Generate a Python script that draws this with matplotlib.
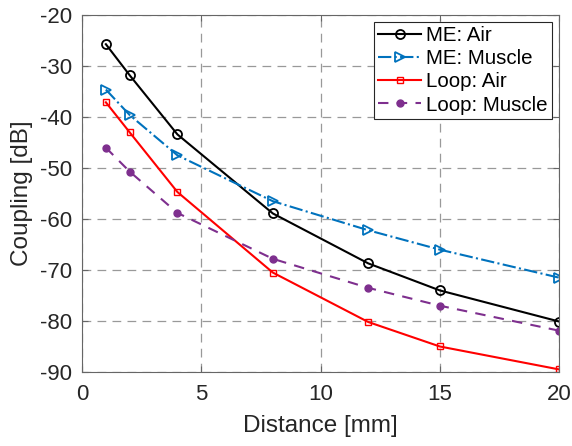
import matplotlib
matplotlib.use('Agg')
import matplotlib.pyplot as plt

plt.rcParams['font.family'] = ['Liberation Sans', 'DejaVu Sans']
plt.rcParams['axes.unicode_minus'] = False

# distances [mm]
distance = [1, 2, 4, 8, 12, 15, 20]

# coupling [dB]
me_air = [-25.7, -31.8, -43.4, -58.9, -68.7, -74.0, -80.1]
me_muscle = [-34.6, -39.6, -47.5, -56.5, -62.2, -66.0, -71.5]
loop_air = [-37.1, -43.0, -54.7, -70.5, -80.2, -85.0, -89.5]
loop_muscle = [-46.0, -50.7, -58.8, -67.8, -73.5, -77.0, -81.9]

fig = plt.figure(figsize=(5.72, 4.46), dpi=100)
ax = fig.add_axes([0.1434, 0.166, 0.834, 0.800])

ax.plot(distance, me_air, color='black', lw=1.5, marker='o', ms=6.5,
        mfc='none', mew=1.3, label='ME: Air')
ax.plot(distance, me_muscle, color='#0072BD', lw=1.5, ls='-.', marker='>',
        ms=7, mfc='none', mew=1.3, label='ME: Muscle')
ax.plot(distance, loop_air, color='red', lw=1.5, marker='s', ms=5,
        mfc='none', mew=1.0, label='Loop: Air')
ax.plot(distance, loop_muscle, color='#7E2F8E', lw=1.5, ls=(0, (5, 4)),
        marker='o', ms=5, mfc='#7E2F8E', mec='#7E2F8E', label='Loop: Muscle')

ax.set_xlim(0, 20)
ax.set_ylim(-90, -20)
ax.set_xticks([0, 5, 10, 15, 20])
ax.set_yticks(range(-90, -19, 10))
ax.tick_params(direction='in', labelsize=16, labelcolor='#262626',
               color='#666666', length=4, top=True, right=True)
ax.tick_params(axis='x', pad=9)
ax.tick_params(axis='y', pad=7)
ax.grid(True, ls=(0, (7, 5)), color='#999999', lw=0.9)
for s in ax.spines.values():
    s.set_color('#666666')

ax.set_xlabel('Distance [mm]', fontsize=17.5, color='#262626', labelpad=7)
ax.set_ylabel('Coupling [dB]', fontsize=17.5, color='#262626', labelpad=5)

leg = ax.legend(loc='upper right', fontsize=14.8, handlelength=2.1,
                handletextpad=0.25, borderpad=0.22, labelspacing=0.2,
                fancybox=False, framealpha=1, borderaxespad=0.32)
leg.get_frame().set_edgecolor('#262626')
leg.get_frame().set_linewidth(0.8)

fig.savefig('out.png', dpi=100)
